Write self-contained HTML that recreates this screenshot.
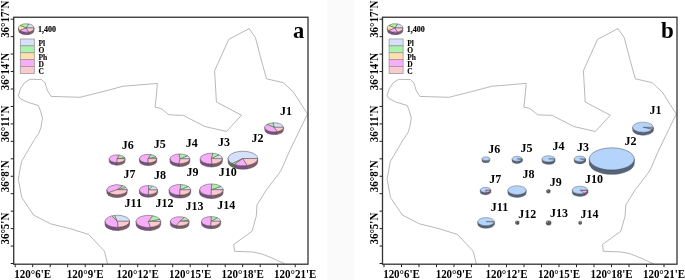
<!DOCTYPE html>
<html><head><meta charset="utf-8"><style>
html,body{margin:0;padding:0;background:#fff;}
body{width:685px;height:280px;position:relative;overflow:hidden;}
svg{position:absolute;left:0;top:0;will-change:transform;}
text{font-family:"Liberation Serif",serif;font-weight:bold;fill:#000;stroke:#000;stroke-width:0;}
.ax{font-size:11px;}
.lab{font-size:12px;stroke-width:0;}
.lg{font-size:7.5px;stroke-width:0.1px;}
.lg1{font-size:8px;stroke-width:0.15px;}
.let{font-size:23px;}
.let.a{font-size:22.5px;}
</style></head><body>
<svg width="685" height="280" viewBox="0 0 685 280">
<rect x="327.2" y="0" width="27.1" height="280" fill="#fafafa"/>
<g transform="translate(0,0)">
<polyline fill="none" stroke="#9a9a9a" stroke-width="0.7" points="107.5,264 104.5,251.25 88.75,234.5 70.5,228.75 50.5,223.75 33.5,215 21.75,197.5 18.3,179 21.5,161.5 34.6,139.3 39.1,132.9 41,127.1 42.5,118.1 40.3,110.4 38.4,105.5 27.5,102.2 20.2,98.6 18.3,95.7 20.2,89.3 24.3,82.9 29.9,79.3 41.6,79.6 45.2,82.9 46,86.1 47.6,90.9 51.1,96.4 80,97.3 104,91.3 122.8,86.3 157.4,83.4 156.3,96 155.1,107.2 160.5,108.3 163.1,110 168.8,114.8 183.7,115.4 186,116.8 205,126.5 226.5,131.5 241.5,115.2 216.4,102 215.5,86 214.6,70.7 228.8,39.3 249.2,28.6 255.4,37.6 261.25,60 266.5,78.8 283.1,82.6 293.3,91.9 307.5,114 290,150 281.25,170 278.75,173.75 266.25,190 257,205 256.25,216.25 252,231.25 233.75,244.5 234.5,251.25 252.5,252 261.4,253.75 272,258 285,264"/>
<rect x="13.7" y="17.25" width="294.3" height="246.95" fill="none" stroke="#333" stroke-width="1.3"/>
<line x1="10.7" y1="19.2" x2="13.7" y2="19.2" stroke="#222" stroke-width="1"/>
<line x1="10.7" y1="36.65" x2="13.7" y2="36.65" stroke="#222" stroke-width="1"/>
<line x1="10.7" y1="54.1" x2="13.7" y2="54.1" stroke="#222" stroke-width="1"/>
<line x1="10.7" y1="71.55" x2="13.7" y2="71.55" stroke="#222" stroke-width="1"/>
<line x1="10.7" y1="89" x2="13.7" y2="89" stroke="#222" stroke-width="1"/>
<line x1="10.7" y1="106.45" x2="13.7" y2="106.45" stroke="#222" stroke-width="1"/>
<line x1="10.7" y1="123.9" x2="13.7" y2="123.9" stroke="#222" stroke-width="1"/>
<line x1="10.7" y1="141.35" x2="13.7" y2="141.35" stroke="#222" stroke-width="1"/>
<line x1="10.7" y1="158.8" x2="13.7" y2="158.8" stroke="#222" stroke-width="1"/>
<line x1="10.7" y1="176.25" x2="13.7" y2="176.25" stroke="#222" stroke-width="1"/>
<line x1="10.7" y1="193.7" x2="13.7" y2="193.7" stroke="#222" stroke-width="1"/>
<line x1="10.7" y1="211.15" x2="13.7" y2="211.15" stroke="#222" stroke-width="1"/>
<line x1="10.7" y1="228.6" x2="13.7" y2="228.6" stroke="#222" stroke-width="1"/>
<line x1="10.7" y1="246.05" x2="13.7" y2="246.05" stroke="#222" stroke-width="1"/>
<line x1="10.7" y1="263.5" x2="13.7" y2="263.5" stroke="#222" stroke-width="1"/>
<line x1="15.2" y1="264.2" x2="15.2" y2="267.2" stroke="#222" stroke-width="1"/>
<line x1="32.7" y1="264.2" x2="32.7" y2="267.2" stroke="#222" stroke-width="1"/>
<line x1="50.2" y1="264.2" x2="50.2" y2="267.2" stroke="#222" stroke-width="1"/>
<line x1="67.7" y1="264.2" x2="67.7" y2="267.2" stroke="#222" stroke-width="1"/>
<line x1="85.2" y1="264.2" x2="85.2" y2="267.2" stroke="#222" stroke-width="1"/>
<line x1="102.7" y1="264.2" x2="102.7" y2="267.2" stroke="#222" stroke-width="1"/>
<line x1="120.2" y1="264.2" x2="120.2" y2="267.2" stroke="#222" stroke-width="1"/>
<line x1="137.7" y1="264.2" x2="137.7" y2="267.2" stroke="#222" stroke-width="1"/>
<line x1="155.2" y1="264.2" x2="155.2" y2="267.2" stroke="#222" stroke-width="1"/>
<line x1="172.7" y1="264.2" x2="172.7" y2="267.2" stroke="#222" stroke-width="1"/>
<line x1="190.2" y1="264.2" x2="190.2" y2="267.2" stroke="#222" stroke-width="1"/>
<line x1="207.7" y1="264.2" x2="207.7" y2="267.2" stroke="#222" stroke-width="1"/>
<line x1="225.2" y1="264.2" x2="225.2" y2="267.2" stroke="#222" stroke-width="1"/>
<line x1="242.7" y1="264.2" x2="242.7" y2="267.2" stroke="#222" stroke-width="1"/>
<line x1="260.2" y1="264.2" x2="260.2" y2="267.2" stroke="#222" stroke-width="1"/>
<line x1="277.7" y1="264.2" x2="277.7" y2="267.2" stroke="#222" stroke-width="1"/>
<line x1="295.2" y1="264.2" x2="295.2" y2="267.2" stroke="#222" stroke-width="1"/>
<text transform="translate(9.1,19.2) rotate(-90) scale(1,1.1)" text-anchor="middle" class="ax">36°17'N</text>
<text transform="translate(9.1,71.55) rotate(-90) scale(1,1.1)" text-anchor="middle" class="ax">36°14'N</text>
<text transform="translate(9.1,123.9) rotate(-90) scale(1,1.1)" text-anchor="middle" class="ax">36°11'N</text>
<text transform="translate(9.1,176.25) rotate(-90) scale(1,1.1)" text-anchor="middle" class="ax">36°8'N</text>
<text transform="translate(9.1,228.6) rotate(-90) scale(1,1.1)" text-anchor="middle" class="ax">36°5'N</text>
<text transform="translate(32.7,277.8) scale(1,1.07)" text-anchor="middle" class="ax">120°6'E</text>
<text transform="translate(85.2,277.8) scale(1,1.07)" text-anchor="middle" class="ax">120°9'E</text>
<text transform="translate(137.7,277.8) scale(1,1.07)" text-anchor="middle" class="ax">120°12'E</text>
<text transform="translate(190.2,277.8) scale(1,1.07)" text-anchor="middle" class="ax">120°15'E</text>
<text transform="translate(242.7,277.8) scale(1,1.07)" text-anchor="middle" class="ax">120°18'E</text>
<text transform="translate(295.2,277.8) scale(1,1.07)" text-anchor="middle" class="ax">120°21'E</text>
<path d="M18.6,27.95 A7.7,4.25 0 0 0 20.07,30.45 L20.07,33.05 A7.7,4.25 0 0 1 18.6,30.55 Z" fill="#9a8060" stroke="#4a4a4a" stroke-width="0.5"/>
<path d="M20.07,30.45 A7.7,4.25 0 0 0 28.68,31.99 L28.68,34.59 A7.7,4.25 0 0 1 20.07,33.05 Z" fill="#7e4e86" stroke="#4a4a4a" stroke-width="0.5"/>
<path d="M28.68,31.99 A7.7,4.25 0 0 0 34,27.95 L34,30.55 A7.7,4.25 0 0 1 28.68,34.59 Z" fill="#845c68" stroke="#4a4a4a" stroke-width="0.5"/>
<path d="M26.3,27.95 L34,27.95 A7.7,4.25 0 0 0 28.68,23.91 Z" fill="#d5e1fb" stroke="#4a4a4a" stroke-width="0.5"/>
<path d="M26.3,27.95 L28.68,23.91 A7.7,4.25 0 0 0 20.07,25.45 Z" fill="#aaf3aa" stroke="#4a4a4a" stroke-width="0.5"/>
<path d="M26.3,27.95 L20.07,25.45 A7.7,4.25 0 0 0 20.07,30.45 Z" fill="#fddfb0" stroke="#4a4a4a" stroke-width="0.5"/>
<path d="M26.3,27.95 L20.07,30.45 A7.7,4.25 0 0 0 28.68,31.99 Z" fill="#f8adfa" stroke="#4a4a4a" stroke-width="0.5"/>
<path d="M26.3,27.95 L28.68,31.99 A7.7,4.25 0 0 0 34,27.95 Z" fill="#fec8d0" stroke="#4a4a4a" stroke-width="0.5"/>
<text x="37.95" y="32.35" class="lg1">1,400</text>
<rect x="20.3" y="39" width="14" height="6.88" fill="#d5e1fb" stroke="#9a9a9a" stroke-width="0.8"/>
<text x="38.4" y="46" class="lg">Pl</text>
<rect x="20.3" y="45.88" width="14" height="6.88" fill="#aaf3aa" stroke="#9a9a9a" stroke-width="0.8"/>
<text x="38.4" y="52.95" class="lg">O</text>
<rect x="20.3" y="52.76" width="14" height="6.88" fill="#fddfb0" stroke="#9a9a9a" stroke-width="0.8"/>
<text x="38.4" y="59.9" class="lg">Ph</text>
<rect x="20.3" y="59.64" width="14" height="6.88" fill="#f8adfa" stroke="#9a9a9a" stroke-width="0.8"/>
<text x="38.4" y="66.85" class="lg">D</text>
<rect x="20.3" y="66.52" width="14" height="6.88" fill="#fec8d0" stroke="#9a9a9a" stroke-width="0.8"/>
<text x="38.4" y="73.8" class="lg">C</text>
<text x="293.1" y="37.95" class="let a">a</text>
</g>
<g transform="translate(368.8,0)">
<polyline fill="none" stroke="#9a9a9a" stroke-width="0.7" points="107.5,264 104.5,251.25 88.75,234.5 70.5,228.75 50.5,223.75 33.5,215 21.75,197.5 18.3,179 21.5,161.5 34.6,139.3 39.1,132.9 41,127.1 42.5,118.1 40.3,110.4 38.4,105.5 27.5,102.2 20.2,98.6 18.3,95.7 20.2,89.3 24.3,82.9 29.9,79.3 41.6,79.6 45.2,82.9 46,86.1 47.6,90.9 51.1,96.4 80,97.3 104,91.3 122.8,86.3 157.4,83.4 156.3,96 155.1,107.2 160.5,108.3 163.1,110 168.8,114.8 183.7,115.4 186,116.8 205,126.5 226.5,131.5 241.5,115.2 216.4,102 215.5,86 214.6,70.7 228.8,39.3 249.2,28.6 255.4,37.6 261.25,60 266.5,78.8 283.1,82.6 293.3,91.9 307.5,114 290,150 281.25,170 278.75,173.75 266.25,190 257,205 256.25,216.25 252,231.25 233.75,244.5 234.5,251.25 252.5,252 261.4,253.75 272,258 285,264"/>
<rect x="13.7" y="17.25" width="294.5" height="246.95" fill="none" stroke="#333" stroke-width="1.3"/>
<line x1="10.7" y1="19.2" x2="13.7" y2="19.2" stroke="#222" stroke-width="1"/>
<line x1="10.7" y1="36.65" x2="13.7" y2="36.65" stroke="#222" stroke-width="1"/>
<line x1="10.7" y1="54.1" x2="13.7" y2="54.1" stroke="#222" stroke-width="1"/>
<line x1="10.7" y1="71.55" x2="13.7" y2="71.55" stroke="#222" stroke-width="1"/>
<line x1="10.7" y1="89" x2="13.7" y2="89" stroke="#222" stroke-width="1"/>
<line x1="10.7" y1="106.45" x2="13.7" y2="106.45" stroke="#222" stroke-width="1"/>
<line x1="10.7" y1="123.9" x2="13.7" y2="123.9" stroke="#222" stroke-width="1"/>
<line x1="10.7" y1="141.35" x2="13.7" y2="141.35" stroke="#222" stroke-width="1"/>
<line x1="10.7" y1="158.8" x2="13.7" y2="158.8" stroke="#222" stroke-width="1"/>
<line x1="10.7" y1="176.25" x2="13.7" y2="176.25" stroke="#222" stroke-width="1"/>
<line x1="10.7" y1="193.7" x2="13.7" y2="193.7" stroke="#222" stroke-width="1"/>
<line x1="10.7" y1="211.15" x2="13.7" y2="211.15" stroke="#222" stroke-width="1"/>
<line x1="10.7" y1="228.6" x2="13.7" y2="228.6" stroke="#222" stroke-width="1"/>
<line x1="10.7" y1="246.05" x2="13.7" y2="246.05" stroke="#222" stroke-width="1"/>
<line x1="10.7" y1="263.5" x2="13.7" y2="263.5" stroke="#222" stroke-width="1"/>
<line x1="15.2" y1="264.2" x2="15.2" y2="267.2" stroke="#222" stroke-width="1"/>
<line x1="32.7" y1="264.2" x2="32.7" y2="267.2" stroke="#222" stroke-width="1"/>
<line x1="50.2" y1="264.2" x2="50.2" y2="267.2" stroke="#222" stroke-width="1"/>
<line x1="67.7" y1="264.2" x2="67.7" y2="267.2" stroke="#222" stroke-width="1"/>
<line x1="85.2" y1="264.2" x2="85.2" y2="267.2" stroke="#222" stroke-width="1"/>
<line x1="102.7" y1="264.2" x2="102.7" y2="267.2" stroke="#222" stroke-width="1"/>
<line x1="120.2" y1="264.2" x2="120.2" y2="267.2" stroke="#222" stroke-width="1"/>
<line x1="137.7" y1="264.2" x2="137.7" y2="267.2" stroke="#222" stroke-width="1"/>
<line x1="155.2" y1="264.2" x2="155.2" y2="267.2" stroke="#222" stroke-width="1"/>
<line x1="172.7" y1="264.2" x2="172.7" y2="267.2" stroke="#222" stroke-width="1"/>
<line x1="190.2" y1="264.2" x2="190.2" y2="267.2" stroke="#222" stroke-width="1"/>
<line x1="207.7" y1="264.2" x2="207.7" y2="267.2" stroke="#222" stroke-width="1"/>
<line x1="225.2" y1="264.2" x2="225.2" y2="267.2" stroke="#222" stroke-width="1"/>
<line x1="242.7" y1="264.2" x2="242.7" y2="267.2" stroke="#222" stroke-width="1"/>
<line x1="260.2" y1="264.2" x2="260.2" y2="267.2" stroke="#222" stroke-width="1"/>
<line x1="277.7" y1="264.2" x2="277.7" y2="267.2" stroke="#222" stroke-width="1"/>
<line x1="295.2" y1="264.2" x2="295.2" y2="267.2" stroke="#222" stroke-width="1"/>
<text transform="translate(9.1,19.2) rotate(-90) scale(1,1.1)" text-anchor="middle" class="ax">36°17'N</text>
<text transform="translate(9.1,71.55) rotate(-90) scale(1,1.1)" text-anchor="middle" class="ax">36°14'N</text>
<text transform="translate(9.1,123.9) rotate(-90) scale(1,1.1)" text-anchor="middle" class="ax">36°11'N</text>
<text transform="translate(9.1,176.25) rotate(-90) scale(1,1.1)" text-anchor="middle" class="ax">36°8'N</text>
<text transform="translate(9.1,228.6) rotate(-90) scale(1,1.1)" text-anchor="middle" class="ax">36°5'N</text>
<text transform="translate(32.7,277.8) scale(1,1.07)" text-anchor="middle" class="ax">120°6'E</text>
<text transform="translate(85.2,277.8) scale(1,1.07)" text-anchor="middle" class="ax">120°9'E</text>
<text transform="translate(137.7,277.8) scale(1,1.07)" text-anchor="middle" class="ax">120°12'E</text>
<text transform="translate(190.2,277.8) scale(1,1.07)" text-anchor="middle" class="ax">120°15'E</text>
<text transform="translate(242.7,277.8) scale(1,1.07)" text-anchor="middle" class="ax">120°18'E</text>
<text transform="translate(295.2,277.8) scale(1,1.07)" text-anchor="middle" class="ax">120°21'E</text>
<path d="M18.6,27.95 A7.7,4.25 0 0 0 20.07,30.45 L20.07,33.05 A7.7,4.25 0 0 1 18.6,30.55 Z" fill="#9a8060" stroke="#4a4a4a" stroke-width="0.5"/>
<path d="M20.07,30.45 A7.7,4.25 0 0 0 28.68,31.99 L28.68,34.59 A7.7,4.25 0 0 1 20.07,33.05 Z" fill="#7e4e86" stroke="#4a4a4a" stroke-width="0.5"/>
<path d="M28.68,31.99 A7.7,4.25 0 0 0 34,27.95 L34,30.55 A7.7,4.25 0 0 1 28.68,34.59 Z" fill="#845c68" stroke="#4a4a4a" stroke-width="0.5"/>
<path d="M26.3,27.95 L34,27.95 A7.7,4.25 0 0 0 28.68,23.91 Z" fill="#d5e1fb" stroke="#4a4a4a" stroke-width="0.5"/>
<path d="M26.3,27.95 L28.68,23.91 A7.7,4.25 0 0 0 20.07,25.45 Z" fill="#aaf3aa" stroke="#4a4a4a" stroke-width="0.5"/>
<path d="M26.3,27.95 L20.07,25.45 A7.7,4.25 0 0 0 20.07,30.45 Z" fill="#fddfb0" stroke="#4a4a4a" stroke-width="0.5"/>
<path d="M26.3,27.95 L20.07,30.45 A7.7,4.25 0 0 0 28.68,31.99 Z" fill="#f8adfa" stroke="#4a4a4a" stroke-width="0.5"/>
<path d="M26.3,27.95 L28.68,31.99 A7.7,4.25 0 0 0 34,27.95 Z" fill="#fec8d0" stroke="#4a4a4a" stroke-width="0.5"/>
<text x="37.95" y="32.35" class="lg1">1,400</text>
<rect x="20.3" y="39" width="14" height="6.88" fill="#d5e1fb" stroke="#9a9a9a" stroke-width="0.8"/>
<text x="38.4" y="46" class="lg">Pl</text>
<rect x="20.3" y="45.88" width="14" height="6.88" fill="#aaf3aa" stroke="#9a9a9a" stroke-width="0.8"/>
<text x="38.4" y="52.95" class="lg">O</text>
<rect x="20.3" y="52.76" width="14" height="6.88" fill="#fddfb0" stroke="#9a9a9a" stroke-width="0.8"/>
<text x="38.4" y="59.9" class="lg">Ph</text>
<rect x="20.3" y="59.64" width="14" height="6.88" fill="#f8adfa" stroke="#9a9a9a" stroke-width="0.8"/>
<text x="38.4" y="66.85" class="lg">D</text>
<rect x="20.3" y="66.52" width="14" height="6.88" fill="#fec8d0" stroke="#9a9a9a" stroke-width="0.8"/>
<text x="38.4" y="73.8" class="lg">C</text>
<text x="292.25" y="38.1" class="let b">b</text>
</g>
<path d="M264.85,127.3 A9.25,4.53 0 0 0 277.26,131.56 L277.26,134.32 A9.25,4.53 0 0 1 264.85,130.06 Z" fill="#7e4e86" stroke="#4a4a4a" stroke-width="0.5"/>
<path d="M277.26,131.56 A9.25,4.53 0 0 0 283.35,127.3 L283.35,130.06 A9.25,4.53 0 0 1 277.26,134.32 Z" fill="#845c68" stroke="#4a4a4a" stroke-width="0.5"/>
<path d="M274.1,127.3 L283.35,127.3 A9.25,4.53 0 0 0 272.97,122.8 Z" fill="#d5e1fb" stroke="#4a4a4a" stroke-width="0.5"/>
<path d="M274.1,127.3 L272.97,122.8 A9.25,4.53 0 0 0 267.01,124.39 Z" fill="#aaf3aa" stroke="#4a4a4a" stroke-width="0.5"/>
<path d="M274.1,127.3 L267.01,124.39 A9.25,4.53 0 0 0 277.26,131.56 Z" fill="#f8adfa" stroke="#4a4a4a" stroke-width="0.5"/>
<path d="M274.1,127.3 L277.26,131.56 A9.25,4.53 0 0 0 283.35,127.3 Z" fill="#fec8d0" stroke="#4a4a4a" stroke-width="0.5"/>
<path d="M228.1,158.5 A14.8,7.25 0 0 0 232.25,163.54 L232.25,166.99 A14.8,7.25 0 0 1 228.1,161.95 Z" fill="#656d88" stroke="#4a4a4a" stroke-width="0.5"/>
<path d="M232.25,163.54 A14.8,7.25 0 0 0 234.41,164.44 L234.41,167.89 A14.8,7.25 0 0 1 232.25,166.99 Z" fill="#558055" stroke="#4a4a4a" stroke-width="0.5"/>
<path d="M234.41,164.44 A14.8,7.25 0 0 0 247.23,165.44 L247.23,168.89 A14.8,7.25 0 0 1 234.41,167.89 Z" fill="#7e4e86" stroke="#4a4a4a" stroke-width="0.5"/>
<path d="M247.23,165.44 A14.8,7.25 0 0 0 257.7,158.5 L257.7,161.95 A14.8,7.25 0 0 1 247.23,168.89 Z" fill="#845c68" stroke="#4a4a4a" stroke-width="0.5"/>
<path d="M242.9,158.5 L257.7,158.5 A14.8,7.25 0 1 0 232.25,163.54 Z" fill="#d5e1fb" stroke="#4a4a4a" stroke-width="0.5"/>
<path d="M242.9,158.5 L232.25,163.54 A14.8,7.25 0 0 0 234.41,164.44 Z" fill="#aaf3aa" stroke="#4a4a4a" stroke-width="0.5"/>
<path d="M242.9,158.5 L234.41,164.44 A14.8,7.25 0 0 0 247.23,165.44 Z" fill="#f8adfa" stroke="#4a4a4a" stroke-width="0.5"/>
<path d="M242.9,158.5 L247.23,165.44 A14.8,7.25 0 0 0 257.7,158.5 Z" fill="#fec8d0" stroke="#4a4a4a" stroke-width="0.5"/>
<path d="M200.2,158.6 A11.05,5.41 0 0 0 212.21,163.99 L212.21,166.98 A11.05,5.41 0 0 1 200.2,161.58 Z" fill="#7e4e86" stroke="#4a4a4a" stroke-width="0.5"/>
<path d="M212.21,163.99 A11.05,5.41 0 0 0 222.3,158.6 L222.3,161.58 A11.05,5.41 0 0 1 212.21,166.98 Z" fill="#845c68" stroke="#4a4a4a" stroke-width="0.5"/>
<path d="M211.25,158.6 L222.3,158.6 A11.05,5.41 0 0 0 219.06,154.77 Z" fill="#d5e1fb" stroke="#4a4a4a" stroke-width="0.5"/>
<path d="M211.25,158.6 L219.06,154.77 A11.05,5.41 0 0 0 212.79,153.24 Z" fill="#aaf3aa" stroke="#4a4a4a" stroke-width="0.5"/>
<path d="M211.25,158.6 L212.79,153.24 A11.05,5.41 0 1 0 212.21,163.99 Z" fill="#f8adfa" stroke="#4a4a4a" stroke-width="0.5"/>
<path d="M211.25,158.6 L212.21,163.99 A11.05,5.41 0 0 0 222.3,158.6 Z" fill="#fec8d0" stroke="#4a4a4a" stroke-width="0.5"/>
<path d="M170,158.8 A9.9,4.85 0 0 0 179.04,163.63 L179.04,166.47 A9.9,4.85 0 0 1 170,161.64 Z" fill="#7e4e86" stroke="#4a4a4a" stroke-width="0.5"/>
<path d="M179.04,163.63 A9.9,4.85 0 0 0 189.8,158.8 L189.8,161.64 A9.9,4.85 0 0 1 179.04,166.47 Z" fill="#845c68" stroke="#4a4a4a" stroke-width="0.5"/>
<path d="M179.9,158.8 L189.8,158.8 A9.9,4.85 0 0 0 187.48,155.68 Z" fill="#d5e1fb" stroke="#4a4a4a" stroke-width="0.5"/>
<path d="M179.9,158.8 L187.48,155.68 A9.9,4.85 0 0 0 179.04,153.97 Z" fill="#aaf3aa" stroke="#4a4a4a" stroke-width="0.5"/>
<path d="M179.9,158.8 L179.04,153.97 A9.9,4.85 0 0 0 179.04,163.63 Z" fill="#f8adfa" stroke="#4a4a4a" stroke-width="0.5"/>
<path d="M179.9,158.8 L179.04,163.63 A9.9,4.85 0 0 0 189.8,158.8 Z" fill="#fec8d0" stroke="#4a4a4a" stroke-width="0.5"/>
<path d="M139.45,158.6 A8.65,4.24 0 0 0 148.1,162.84 L148.1,165.52 A8.65,4.24 0 0 1 139.45,161.28 Z" fill="#7e4e86" stroke="#4a4a4a" stroke-width="0.5"/>
<path d="M148.1,162.84 A8.65,4.24 0 0 0 156.75,158.6 L156.75,161.28 A8.65,4.24 0 0 1 148.1,165.52 Z" fill="#845c68" stroke="#4a4a4a" stroke-width="0.5"/>
<path d="M148.1,158.6 L156.75,158.6 A8.65,4.24 0 0 0 155.94,156.81 Z" fill="#d5e1fb" stroke="#4a4a4a" stroke-width="0.5"/>
<path d="M148.1,158.6 L155.94,156.81 A8.65,4.24 0 0 0 150.77,154.57 Z" fill="#aaf3aa" stroke="#4a4a4a" stroke-width="0.5"/>
<path d="M148.1,158.6 L150.77,154.57 A8.65,4.24 0 1 0 148.1,162.84 Z" fill="#f8adfa" stroke="#4a4a4a" stroke-width="0.5"/>
<path d="M148.1,158.6 L148.1,162.84 A8.65,4.24 0 0 0 156.75,158.6 Z" fill="#fec8d0" stroke="#4a4a4a" stroke-width="0.5"/>
<path d="M109.2,158.7 A7.9,3.87 0 0 0 117.1,162.57 L117.1,165.16 A7.9,3.87 0 0 1 109.2,161.29 Z" fill="#7e4e86" stroke="#4a4a4a" stroke-width="0.5"/>
<path d="M117.1,162.57 A7.9,3.87 0 0 0 125,158.7 L125,161.29 A7.9,3.87 0 0 1 117.1,165.16 Z" fill="#845c68" stroke="#4a4a4a" stroke-width="0.5"/>
<path d="M117.1,158.7 L125,158.7 A7.9,3.87 0 0 0 124.61,157.5 Z" fill="#d5e1fb" stroke="#4a4a4a" stroke-width="0.5"/>
<path d="M117.1,158.7 L124.61,157.5 A7.9,3.87 0 0 0 119.14,154.96 Z" fill="#aaf3aa" stroke="#4a4a4a" stroke-width="0.5"/>
<path d="M117.1,158.7 L119.14,154.96 A7.9,3.87 0 1 0 117.1,162.57 Z" fill="#f8adfa" stroke="#4a4a4a" stroke-width="0.5"/>
<path d="M117.1,158.7 L117.1,162.57 A7.9,3.87 0 0 0 125,158.7 Z" fill="#fec8d0" stroke="#4a4a4a" stroke-width="0.5"/>
<path d="M106.9,189.7 A10.1,4.95 0 0 0 108.83,192.61 L108.83,195.47 A10.1,4.95 0 0 1 106.9,192.56 Z" fill="#7e4e86" stroke="#4a4a4a" stroke-width="0.5"/>
<path d="M108.83,192.61 A10.1,4.95 0 0 0 127.1,189.7 L127.1,192.56 A10.1,4.95 0 0 1 108.83,195.47 Z" fill="#845c68" stroke="#4a4a4a" stroke-width="0.5"/>
<path d="M117,189.7 L127.1,189.7 A10.1,4.95 0 0 0 125.92,187.38 Z" fill="#d5e1fb" stroke="#4a4a4a" stroke-width="0.5"/>
<path d="M117,189.7 L125.92,187.38 A10.1,4.95 0 0 0 122.79,185.65 Z" fill="#aaf3aa" stroke="#4a4a4a" stroke-width="0.5"/>
<path d="M117,189.7 L122.79,185.65 A10.1,4.95 0 0 0 108.83,192.61 Z" fill="#f8adfa" stroke="#4a4a4a" stroke-width="0.5"/>
<path d="M117,189.7 L108.83,192.61 A10.1,4.95 0 0 0 127.1,189.7 Z" fill="#fec8d0" stroke="#4a4a4a" stroke-width="0.5"/>
<path d="M139.4,190 A9.1,4.46 0 0 0 148.5,194.46 L148.5,197.2 A9.1,4.46 0 0 1 139.4,192.74 Z" fill="#7e4e86" stroke="#4a4a4a" stroke-width="0.5"/>
<path d="M148.5,194.46 A9.1,4.46 0 0 0 157.6,190 L157.6,192.74 A9.1,4.46 0 0 1 148.5,197.2 Z" fill="#845c68" stroke="#4a4a4a" stroke-width="0.5"/>
<path d="M148.5,190 L157.6,190 A9.1,4.46 0 0 0 152.35,185.96 Z" fill="#d5e1fb" stroke="#4a4a4a" stroke-width="0.5"/>
<path d="M148.5,190 L152.35,185.96 A9.1,4.46 0 0 0 148.5,185.54 Z" fill="#aaf3aa" stroke="#4a4a4a" stroke-width="0.5"/>
<path d="M148.5,190 L148.5,185.54 A9.1,4.46 0 0 0 148.5,194.46 Z" fill="#f8adfa" stroke="#4a4a4a" stroke-width="0.5"/>
<path d="M148.5,190 L148.5,194.46 A9.1,4.46 0 0 0 157.6,190 Z" fill="#fec8d0" stroke="#4a4a4a" stroke-width="0.5"/>
<path d="M169.1,189.8 A10.8,5.29 0 0 0 179.9,195.09 L179.9,198.04 A10.8,5.29 0 0 1 169.1,192.75 Z" fill="#7e4e86" stroke="#4a4a4a" stroke-width="0.5"/>
<path d="M179.9,195.09 A10.8,5.29 0 0 0 190.7,189.8 L190.7,192.75 A10.8,5.29 0 0 1 179.9,198.04 Z" fill="#845c68" stroke="#4a4a4a" stroke-width="0.5"/>
<path d="M179.9,189.8 L190.7,189.8 A10.8,5.29 0 0 0 188.17,186.4 Z" fill="#d5e1fb" stroke="#4a4a4a" stroke-width="0.5"/>
<path d="M179.9,189.8 L188.17,186.4 A10.8,5.29 0 0 0 180.84,184.53 Z" fill="#aaf3aa" stroke="#4a4a4a" stroke-width="0.5"/>
<path d="M179.9,189.8 L180.84,184.53 A10.8,5.29 0 1 0 179.9,195.09 Z" fill="#f8adfa" stroke="#4a4a4a" stroke-width="0.5"/>
<path d="M179.9,189.8 L179.9,195.09 A10.8,5.29 0 0 0 190.7,189.8 Z" fill="#fec8d0" stroke="#4a4a4a" stroke-width="0.5"/>
<path d="M199.5,189.7 A11.8,5.78 0 0 0 211.3,195.48 L211.3,198.56 A11.8,5.78 0 0 1 199.5,192.77 Z" fill="#7e4e86" stroke="#4a4a4a" stroke-width="0.5"/>
<path d="M211.3,195.48 A11.8,5.78 0 0 0 223.1,189.7 L223.1,192.77 A11.8,5.78 0 0 1 211.3,198.56 Z" fill="#845c68" stroke="#4a4a4a" stroke-width="0.5"/>
<path d="M211.3,189.7 L223.1,189.7 A11.8,5.78 0 0 0 220.97,186.38 Z" fill="#d5e1fb" stroke="#4a4a4a" stroke-width="0.5"/>
<path d="M211.3,189.7 L220.97,186.38 A11.8,5.78 0 0 0 211.71,183.92 Z" fill="#aaf3aa" stroke="#4a4a4a" stroke-width="0.5"/>
<path d="M211.3,189.7 L211.71,183.92 A11.8,5.78 0 1 0 211.3,195.48 Z" fill="#f8adfa" stroke="#4a4a4a" stroke-width="0.5"/>
<path d="M211.3,189.7 L211.3,195.48 A11.8,5.78 0 0 0 223.1,189.7 Z" fill="#fec8d0" stroke="#4a4a4a" stroke-width="0.5"/>
<path d="M105,221.3 A12.3,6.03 0 0 0 118.37,227.3 L118.37,230.44 A12.3,6.03 0 0 1 105,224.44 Z" fill="#7e4e86" stroke="#4a4a4a" stroke-width="0.5"/>
<path d="M118.37,227.3 A12.3,6.03 0 0 0 129.6,221.3 L129.6,224.44 A12.3,6.03 0 0 1 118.37,230.44 Z" fill="#845c68" stroke="#4a4a4a" stroke-width="0.5"/>
<path d="M117.3,221.3 L129.6,221.3 A12.3,6.03 0 0 0 114.53,215.43 Z" fill="#d5e1fb" stroke="#4a4a4a" stroke-width="0.5"/>
<path d="M117.3,221.3 L114.53,215.43 A12.3,6.03 0 0 0 111.72,215.93 Z" fill="#aaf3aa" stroke="#4a4a4a" stroke-width="0.5"/>
<path d="M117.3,221.3 L111.72,215.93 A12.3,6.03 0 0 0 118.37,227.3 Z" fill="#f8adfa" stroke="#4a4a4a" stroke-width="0.5"/>
<path d="M117.3,221.3 L118.37,227.3 A12.3,6.03 0 0 0 129.6,221.3 Z" fill="#fec8d0" stroke="#4a4a4a" stroke-width="0.5"/>
<path d="M136.1,221.4 A12.3,6.03 0 0 0 150.54,227.34 L150.54,230.47 A12.3,6.03 0 0 1 136.1,224.54 Z" fill="#7e4e86" stroke="#4a4a4a" stroke-width="0.5"/>
<path d="M150.54,227.34 A12.3,6.03 0 0 0 160.7,221.4 L160.7,224.54 A12.3,6.03 0 0 1 150.54,230.47 Z" fill="#845c68" stroke="#4a4a4a" stroke-width="0.5"/>
<path d="M148.4,221.4 L160.7,221.4 A12.3,6.03 0 0 0 159.96,219.34 Z" fill="#d5e1fb" stroke="#4a4a4a" stroke-width="0.5"/>
<path d="M148.4,221.4 L159.96,219.34 A12.3,6.03 0 0 0 152.61,215.74 Z" fill="#aaf3aa" stroke="#4a4a4a" stroke-width="0.5"/>
<path d="M148.4,221.4 L152.61,215.74 A12.3,6.03 0 1 0 150.54,227.34 Z" fill="#f8adfa" stroke="#4a4a4a" stroke-width="0.5"/>
<path d="M148.4,221.4 L150.54,227.34 A12.3,6.03 0 0 0 160.7,221.4 Z" fill="#fec8d0" stroke="#4a4a4a" stroke-width="0.5"/>
<path d="M170.4,221.3 A9.3,4.56 0 0 0 176.52,225.58 L176.52,228.34 A9.3,4.56 0 0 1 170.4,224.06 Z" fill="#7e4e86" stroke="#4a4a4a" stroke-width="0.5"/>
<path d="M176.52,225.58 A9.3,4.56 0 0 0 189,221.3 L189,224.06 A9.3,4.56 0 0 1 176.52,228.34 Z" fill="#845c68" stroke="#4a4a4a" stroke-width="0.5"/>
<path d="M179.7,221.3 L189,221.3 A9.3,4.56 0 0 0 188.68,220.12 Z" fill="#d5e1fb" stroke="#4a4a4a" stroke-width="0.5"/>
<path d="M179.7,221.3 L188.68,220.12 A9.3,4.56 0 0 0 184.35,217.35 Z" fill="#aaf3aa" stroke="#4a4a4a" stroke-width="0.5"/>
<path d="M179.7,221.3 L184.35,217.35 A9.3,4.56 0 1 0 176.52,225.58 Z" fill="#f8adfa" stroke="#4a4a4a" stroke-width="0.5"/>
<path d="M179.7,221.3 L176.52,225.58 A9.3,4.56 0 0 0 189,221.3 Z" fill="#fec8d0" stroke="#4a4a4a" stroke-width="0.5"/>
<path d="M201.55,221.3 A9.55,4.68 0 0 0 210.77,225.98 L210.77,228.77 A9.55,4.68 0 0 1 201.55,224.09 Z" fill="#7e4e86" stroke="#4a4a4a" stroke-width="0.5"/>
<path d="M210.77,225.98 A9.55,4.68 0 0 0 220.65,221.3 L220.65,224.09 A9.55,4.68 0 0 1 210.77,228.77 Z" fill="#845c68" stroke="#4a4a4a" stroke-width="0.5"/>
<path d="M211.1,221.3 L220.65,221.3 A9.55,4.68 0 0 0 217.24,217.72 Z" fill="#d5e1fb" stroke="#4a4a4a" stroke-width="0.5"/>
<path d="M211.1,221.3 L217.24,217.72 A9.55,4.68 0 0 0 211.1,216.62 Z" fill="#aaf3aa" stroke="#4a4a4a" stroke-width="0.5"/>
<path d="M211.1,221.3 L211.1,216.62 A9.55,4.68 0 0 0 210.77,225.98 Z" fill="#f8adfa" stroke="#4a4a4a" stroke-width="0.5"/>
<path d="M211.1,221.3 L210.77,225.98 A9.55,4.68 0 0 0 220.65,221.3 Z" fill="#fec8d0" stroke="#4a4a4a" stroke-width="0.5"/>
<path d="M652.08,129.48 A10.25,5.02 0 0 0 652.31,129.24 L652.31,132.12 A10.25,5.02 0 0 1 652.08,132.36 Z" fill="#558055" stroke="#4a4a4a" stroke-width="0.4"/>
<path d="M652.31,129.24 A10.25,5.02 0 0 0 653.04,128.07 L653.04,130.95 A10.25,5.02 0 0 1 652.31,132.12 Z" fill="#7e4e86" stroke="#4a4a4a" stroke-width="0.4"/>
<path d="M653.04,128.07 A10.25,5.02 0 0 0 653.2,127.2 L653.2,130.08 A10.25,5.02 0 0 1 653.04,130.95 Z" fill="#845c68" stroke="#4a4a4a" stroke-width="0.4"/>
<path d="M632.7,127.2 A10.25,5.02 0 0 0 652.08,129.48 L652.08,132.36 A10.25,5.02 0 0 1 632.7,130.08 Z" fill="#54647f" stroke="#4a4a4a" stroke-width="0.4"/>
<path d="M642.95,127.2 L652.08,129.48 A10.25,5.02 0 0 0 652.31,129.24 Z" fill="#aaf3aa" stroke="#4a4a4a" stroke-width="0.4"/>
<path d="M642.95,127.2 L652.31,129.24 A10.25,5.02 0 0 0 653.04,128.07 Z" fill="#f8adfa" stroke="#4a4a4a" stroke-width="0.4"/>
<path d="M642.95,127.2 L653.04,128.07 A10.25,5.02 0 0 0 653.2,127.2 Z" fill="#fec8d0" stroke="#4a4a4a" stroke-width="0.4"/>
<path d="M642.95,127.2 L653.2,127.2 A10.25,5.02 0 1 0 652.08,129.48 Z" fill="#b4d4fb" stroke="#4a4a4a" stroke-width="0.4"/>
<path d="M589.3,158.9 A22.5,11.03 0 0 0 634.3,158.9 L634.3,163.31 A22.5,11.03 0 0 1 589.3,163.31 Z" fill="#54647f" stroke="#4a4a4a" stroke-width="0.5"/>
<ellipse cx="611.8" cy="158.9" rx="22.5" ry="11.03" fill="#b4d4fb" stroke="#4a4a4a" stroke-width="0.5"/>
<path d="M584.79,160.05 A5.6,2.74 0 0 0 585.36,159.13 L585.36,161.43 A5.6,2.74 0 0 1 584.79,162.35 Z" fill="#7e4e86" stroke="#4a4a4a" stroke-width="0.4"/>
<path d="M585.36,159.13 A5.6,2.74 0 0 0 585.4,158.8 L585.4,161.1 A5.6,2.74 0 0 1 585.36,161.43 Z" fill="#845c68" stroke="#4a4a4a" stroke-width="0.4"/>
<path d="M574.2,158.8 A5.6,2.74 0 0 0 584.79,160.05 L584.79,162.35 A5.6,2.74 0 0 1 574.2,161.1 Z" fill="#54647f" stroke="#4a4a4a" stroke-width="0.4"/>
<path d="M579.8,158.8 L584.79,160.05 A5.6,2.74 0 0 0 585.36,159.13 Z" fill="#f8adfa" stroke="#4a4a4a" stroke-width="0.4"/>
<path d="M579.8,158.8 L585.36,159.13 A5.6,2.74 0 0 0 585.4,158.8 Z" fill="#fec8d0" stroke="#4a4a4a" stroke-width="0.4"/>
<path d="M579.8,158.8 L585.4,158.8 A5.6,2.74 0 1 0 584.79,160.05 Z" fill="#b4d4fb" stroke="#4a4a4a" stroke-width="0.4"/>
<path d="M554.74,159.23 A6.35,3.11 0 0 0 554.8,158.8 L554.8,161.19 A6.35,3.11 0 0 1 554.74,161.63 Z" fill="#558055" stroke="#4a4a4a" stroke-width="0.4"/>
<path d="M542.1,158.8 A6.35,3.11 0 0 0 554.74,159.23 L554.74,161.63 A6.35,3.11 0 0 1 542.1,161.19 Z" fill="#54647f" stroke="#4a4a4a" stroke-width="0.4"/>
<path d="M548.45,158.8 L554.74,159.23 A6.35,3.11 0 0 0 554.8,158.8 Z" fill="#aaf3aa" stroke="#4a4a4a" stroke-width="0.4"/>
<path d="M548.45,158.8 L554.8,158.8 A6.35,3.11 0 1 0 554.74,159.23 Z" fill="#b4d4fb" stroke="#4a4a4a" stroke-width="0.4"/>
<path d="M521.63,159.84 A5,2.45 0 0 0 522.06,159.1 L522.06,161.32 A5,2.45 0 0 1 521.63,162.06 Z" fill="#7e4e86" stroke="#4a4a4a" stroke-width="0.4"/>
<path d="M522.06,159.1 A5,2.45 0 0 0 522.1,158.8 L522.1,161.03 A5,2.45 0 0 1 522.06,161.32 Z" fill="#845c68" stroke="#4a4a4a" stroke-width="0.4"/>
<path d="M512.1,158.8 A5,2.45 0 0 0 521.63,159.84 L521.63,162.06 A5,2.45 0 0 1 512.1,161.03 Z" fill="#54647f" stroke="#4a4a4a" stroke-width="0.4"/>
<path d="M517.1,158.8 L521.63,159.84 A5,2.45 0 0 0 522.06,159.1 Z" fill="#f8adfa" stroke="#4a4a4a" stroke-width="0.4"/>
<path d="M517.1,158.8 L522.06,159.1 A5,2.45 0 0 0 522.1,158.8 Z" fill="#fec8d0" stroke="#4a4a4a" stroke-width="0.4"/>
<path d="M517.1,158.8 L522.1,158.8 A5,2.45 0 1 0 521.63,159.84 Z" fill="#b4d4fb" stroke="#4a4a4a" stroke-width="0.4"/>
<path d="M482,158.7 A3.9,1.91 0 0 0 489.8,158.7 L489.8,160.79 A3.9,1.91 0 0 1 482,160.79 Z" fill="#54647f" stroke="#4a4a4a" stroke-width="0.4"/>
<ellipse cx="485.9" cy="158.7" rx="3.9" ry="1.91" fill="#b4d4fb" stroke="#4a4a4a" stroke-width="0.4"/>
<path d="M485.96,192.46 A5.25,2.57 0 0 0 490.57,190.57 L490.57,192.82 A5.25,2.57 0 0 1 485.96,194.72 Z" fill="#7e4e86" stroke="#4a4a4a" stroke-width="0.4"/>
<path d="M490.57,190.57 A5.25,2.57 0 0 0 490.75,189.9 L490.75,192.16 A5.25,2.57 0 0 1 490.57,192.82 Z" fill="#845c68" stroke="#4a4a4a" stroke-width="0.4"/>
<path d="M480.25,189.9 A5.25,2.57 0 0 0 485.96,192.46 L485.96,194.72 A5.25,2.57 0 0 1 480.25,192.16 Z" fill="#54647f" stroke="#4a4a4a" stroke-width="0.4"/>
<path d="M485.5,189.9 L485.96,192.46 A5.25,2.57 0 0 0 490.57,190.57 Z" fill="#f8adfa" stroke="#4a4a4a" stroke-width="0.4"/>
<path d="M485.5,189.9 L490.57,190.57 A5.25,2.57 0 0 0 490.75,189.9 Z" fill="#fec8d0" stroke="#4a4a4a" stroke-width="0.4"/>
<path d="M485.5,189.9 L490.75,189.9 A5.25,2.57 0 1 0 485.96,192.46 Z" fill="#b4d4fb" stroke="#4a4a4a" stroke-width="0.4"/>
<path d="M507.9,190.2 A9.15,4.48 0 0 0 526.2,190.2 L526.2,192.94 A9.15,4.48 0 0 1 507.9,192.94 Z" fill="#54647f" stroke="#4a4a4a" stroke-width="0.4"/>
<ellipse cx="517.05" cy="190.2" rx="9.15" ry="4.48" fill="#b4d4fb" stroke="#4a4a4a" stroke-width="0.4"/>
<path d="M583.88,193.29 A7.75,3.8 0 0 0 587.67,190.53 L587.67,193.1 A7.75,3.8 0 0 1 583.88,195.86 Z" fill="#7e4e86" stroke="#4a4a4a" stroke-width="0.4"/>
<path d="M587.67,190.53 A7.75,3.8 0 0 0 587.75,190 L587.75,192.57 A7.75,3.8 0 0 1 587.67,193.1 Z" fill="#845c68" stroke="#4a4a4a" stroke-width="0.4"/>
<path d="M572.25,190 A7.75,3.8 0 0 0 583.88,193.29 L583.88,195.86 A7.75,3.8 0 0 1 572.25,192.57 Z" fill="#54647f" stroke="#4a4a4a" stroke-width="0.4"/>
<path d="M580,190 L583.88,193.29 A7.75,3.8 0 0 0 587.67,190.53 Z" fill="#f8adfa" stroke="#4a4a4a" stroke-width="0.4"/>
<path d="M580,190 L587.67,190.53 A7.75,3.8 0 0 0 587.75,190 Z" fill="#fec8d0" stroke="#4a4a4a" stroke-width="0.4"/>
<path d="M580,190 L587.75,190 A7.75,3.8 0 1 0 583.88,193.29 Z" fill="#b4d4fb" stroke="#4a4a4a" stroke-width="0.4"/>
<path d="M494.12,222.16 A8.2,4.02 0 0 0 494.2,221.6 L494.2,224.22 A8.2,4.02 0 0 1 494.12,224.78 Z" fill="#845c68" stroke="#4a4a4a" stroke-width="0.4"/>
<path d="M477.8,221.6 A8.2,4.02 0 0 0 494.12,222.16 L494.12,224.78 A8.2,4.02 0 0 1 477.8,224.22 Z" fill="#54647f" stroke="#4a4a4a" stroke-width="0.4"/>
<path d="M486,221.6 L494.12,222.16 A8.2,4.02 0 0 0 494.2,221.6 Z" fill="#fec8d0" stroke="#4a4a4a" stroke-width="0.4"/>
<path d="M486,221.6 L494.2,221.6 A8.2,4.02 0 1 0 494.12,222.16 Z" fill="#b4d4fb" stroke="#4a4a4a" stroke-width="0.4"/>
<path d="M548.6,223.13 A2.3,1.13 0 0 0 550.9,222 L550.9,223.89 A2.3,1.13 0 0 1 548.6,225.01 Z" fill="#558055" stroke="#3a3a3a" stroke-width="0.6"/>
<path d="M546.3,222 A2.3,1.13 0 0 0 548.6,223.13 L548.6,225.01 A2.3,1.13 0 0 1 546.3,223.89 Z" fill="#7e4e86" stroke="#3a3a3a" stroke-width="0.6"/>
<path d="M548.6,222 L548.6,223.13 A2.3,1.13 0 0 0 550.9,222 Z" fill="#aaf3aa" stroke="#3a3a3a" stroke-width="0.6"/>
<path d="M548.6,222 L548.6,220.87 A2.3,1.13 0 0 0 548.6,223.13 Z" fill="#f8adfa" stroke="#3a3a3a" stroke-width="0.6"/>
<path d="M548.6,222 L550.9,222 A2.3,1.13 0 0 0 548.6,220.87 Z" fill="#b4d4fb" stroke="#3a3a3a" stroke-width="0.6"/>
<path d="M546.8,190.5 A1.6,0.78 0 0 0 550,190.5 L550,192.3 A1.6,0.78 0 0 1 546.8,192.3 Z" fill="#7e4e86" stroke="#3a3a3a" stroke-width="0.6"/>
<path d="M548.4,190.5 L550,190.5 A1.6,0.78 0 0 0 549.2,189.82 Z" fill="#aaf3aa" stroke="#3a3a3a" stroke-width="0.6"/>
<path d="M548.4,190.5 L549.2,189.82 A1.6,0.78 0 1 0 550,190.5 Z" fill="#f8adfa" stroke="#3a3a3a" stroke-width="0.6"/>
<path d="M515.7,221.8 A1.6,0.78 0 0 0 518.1,222.48 L518.1,224.28 A1.6,0.78 0 0 1 515.7,223.6 Z" fill="#558055" stroke="#3a3a3a" stroke-width="0.6"/>
<path d="M518.1,222.48 A1.6,0.78 0 0 0 518.9,221.8 L518.9,223.6 A1.6,0.78 0 0 1 518.1,224.28 Z" fill="#7e4e86" stroke="#3a3a3a" stroke-width="0.6"/>
<path d="M517.3,221.8 L518.9,221.8 A1.6,0.78 0 1 0 518.1,222.48 Z" fill="#aaf3aa" stroke="#3a3a3a" stroke-width="0.6"/>
<path d="M517.3,221.8 L518.1,222.48 A1.6,0.78 0 0 0 518.9,221.8 Z" fill="#f8adfa" stroke="#3a3a3a" stroke-width="0.6"/>
<path d="M578.9,221.9 A1.3,0.64 0 0 0 581.5,221.9 L581.5,223.66 A1.3,0.64 0 0 1 578.9,223.66 Z" fill="#54647f" stroke="#3a3a3a" stroke-width="0.6"/>
<ellipse cx="580.2" cy="221.9" rx="1.3" ry="0.64" fill="#b4d4fb" stroke="#3a3a3a" stroke-width="0.6"/>
<text x="280" y="114.9" class="lab">J1</text>
<text x="251.4" y="141.5" class="lab">J2</text>
<text x="217.9" y="145.6" class="lab">J3</text>
<text x="185.7" y="146.6" class="lab">J4</text>
<text x="153.8" y="147.8" class="lab">J5</text>
<text x="121.7" y="148.7" class="lab">J6</text>
<text x="123.4" y="177.6" class="lab">J7</text>
<text x="153.9" y="178.8" class="lab">J8</text>
<text x="186.6" y="176.2" class="lab">J9</text>
<text x="218.8" y="175.5" class="lab">J10</text>
<text x="124.6" y="207" class="lab">J11</text>
<text x="155.4" y="206.8" class="lab">J12</text>
<text x="185.5" y="209.6" class="lab">J13</text>
<text x="217.3" y="209.4" class="lab">J14</text>
<text x="649.4" y="114.3" class="lab">J1</text>
<text x="624.4" y="144.6" class="lab">J2</text>
<text x="576.9" y="150.6" class="lab">J3</text>
<text x="552.5" y="150.1" class="lab">J4</text>
<text x="520.6" y="151.6" class="lab">J5</text>
<text x="488.2" y="152.6" class="lab">J6</text>
<text x="489.2" y="182.6" class="lab">J7</text>
<text x="522.6" y="178.4" class="lab">J8</text>
<text x="549.7" y="186.4" class="lab">J9</text>
<text x="585.1" y="182.9" class="lab">J10</text>
<text x="490.8" y="211.2" class="lab">J11</text>
<text x="518.3" y="217.8" class="lab">J12</text>
<text x="550.1" y="217.1" class="lab">J13</text>
<text x="580.5" y="218.3" class="lab">J14</text>
</svg>
</body></html>
